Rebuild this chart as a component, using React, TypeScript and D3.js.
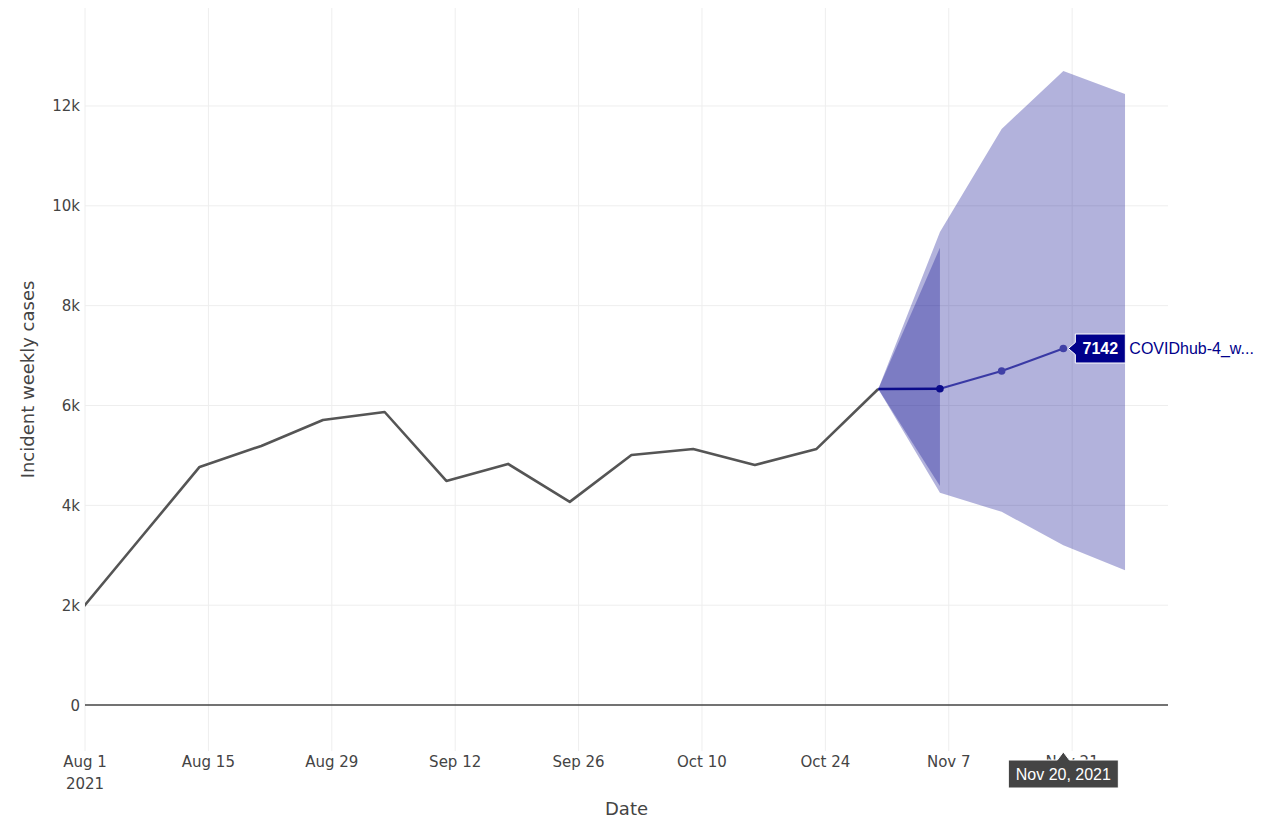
import { useEffect, useRef } from "react";
import * as d3 from "d3";

const WIDTH = 1281;
const HEIGHT = 820;
const PLOT = { left: 85, top: 8, right: 1168, bottom: 751 };
const X_START = "2021-08-01T00:00:00Z";
const X_END = "2021-12-01T21:00:00Z";
const Y_MIN = -921;
const Y_MAX = 13963;

// observed weekly cases
const truthDates = [
  "2021-07-31", "2021-08-07", "2021-08-14", "2021-08-21", "2021-08-28",
  "2021-09-04", "2021-09-11", "2021-09-18", "2021-09-25", "2021-10-02",
  "2021-10-09", "2021-10-16", "2021-10-23", "2021-10-30",
];
const truthCases = [
  1790, 3280, 4770, 5190, 5710, 5870, 4490, 4830, 4070, 5010, 5130, 4810, 5130, 6330,
];

// forecast (COVIDhub-4_week_ensemble)
const forecastDates = ["2021-10-30", "2021-11-06", "2021-11-13", "2021-11-20", "2021-11-27"];
const medianCases = [6330, 6335, 6690, 7142];
const outerLower = [6330, 4250, 3870, 3200, 2700];
const outerUpper = [6330, 9475, 11540, 12700, 12240];
const innerDates = ["2021-10-30", "2021-11-06"];
const innerLower = [6330, 4390];
const innerUpper = [6330, 9160];

const xTicks = [
  "2021-08-01", "2021-08-15", "2021-08-29", "2021-09-12", "2021-09-26",
  "2021-10-10", "2021-10-24", "2021-11-07", "2021-11-21",
];
const yTicks = [0, 2000, 4000, 6000, 8000, 10000, 12000];

const hoverDate = "2021-11-20";
const hoverValue = 7142;
const hoverName = "COVIDhub-4_w...";
const hoverDateLabel = "Nov 20, 2021";

const TICK_FONT = "'DejaVu Sans', Verdana, sans-serif";
const HOVER_FONT = "'Liberation Sans', Arial, sans-serif";

export default function App() {
  const svgRef = useRef<SVGSVGElement | null>(null);

  useEffect(() => {
    if (!svgRef.current) return;
    const svg = d3.select(svgRef.current);
    svg.selectAll("*").remove();

    const parse = d3.utcParse("%Y-%m-%d");
    const pd = (s: string) => parse(s) as Date;

    const x = d3
      .scaleUtc()
      .domain([new Date(X_START), new Date(X_END)])
      .range([PLOT.left, PLOT.right]);
    const y = d3.scaleLinear().domain([Y_MIN, Y_MAX]).range([PLOT.bottom, PLOT.top]);

    svg
      .append("defs")
      .append("clipPath")
      .attr("id", "plot-clip")
      .append("rect")
      .attr("x", PLOT.left)
      .attr("y", PLOT.top)
      .attr("width", PLOT.right - PLOT.left)
      .attr("height", PLOT.bottom - PLOT.top);

    // grid
    const grid = svg.append("g");
    grid
      .selectAll("line.vx")
      .data(xTicks)
      .enter()
      .append("line")
      .attr("x1", (d) => x(pd(d)))
      .attr("x2", (d) => x(pd(d)))
      .attr("y1", PLOT.top)
      .attr("y2", PLOT.bottom)
      .attr("stroke", "#eeeeee")
      .attr("stroke-width", 1);
    grid
      .selectAll("line.hy")
      .data(yTicks.filter((v) => v !== 0))
      .enter()
      .append("line")
      .attr("x1", PLOT.left)
      .attr("x2", PLOT.right)
      .attr("y1", (d) => y(d))
      .attr("y2", (d) => y(d))
      .attr("stroke", "#eeeeee")
      .attr("stroke-width", 1);

    // zero line
    svg
      .append("line")
      .attr("x1", PLOT.left)
      .attr("x2", PLOT.right)
      .attr("y1", y(0))
      .attr("y2", y(0))
      .attr("stroke", "#444")
      .attr("stroke-width", 1.3);

    const plot = svg.append("g").attr("clip-path", "url(#plot-clip)");

    // bands
    const area = d3
      .area<[Date, number, number]>()
      .x((d) => x(d[0]))
      .y0((d) => y(d[1]))
      .y1((d) => y(d[2]));

    const outer = forecastDates.map((d, i) => [pd(d), outerLower[i], outerUpper[i]] as [Date, number, number]);
    const inner = innerDates.map((d, i) => [pd(d), innerLower[i], innerUpper[i]] as [Date, number, number]);

    plot.append("path").attr("d", area(outer)).attr("fill", "rgb(0,0,139)").attr("fill-opacity", 0.3);
    plot.append("path").attr("d", area(inner)).attr("fill", "rgb(0,0,139)").attr("fill-opacity", 0.3);

    // truth line
    const line = d3
      .line<[Date, number]>()
      .x((d) => x(d[0]))
      .y((d) => y(d[1]));
    const truth = truthDates.map((d, i) => [pd(d), truthCases[i]] as [Date, number]);
    plot
      .append("path")
      .attr("d", line(truth))
      .attr("fill", "none")
      .attr("stroke", "#555")
      .attr("stroke-width", 2.6)
      .attr("stroke-linejoin", "round");

    // median
    const median = medianCases.map((v, i) => [pd(forecastDates[i]), v] as [Date, number]);
    plot
      .append("path")
      .attr("d", line(median.slice(1)))
      .attr("fill", "none")
      .attr("stroke", "rgba(0,0,139,0.68)")
      .attr("stroke-width", 2.2);
    plot
      .append("path")
      .attr("d", line(median.slice(0, 2)))
      .attr("fill", "none")
      .attr("stroke", "#0b0b8a")
      .attr("stroke-width", 2.4);
    plot
      .selectAll("circle.med")
      .data(median.slice(1))
      .enter()
      .append("circle")
      .attr("cx", (d) => x(d[0]))
      .attr("cy", (d) => y(d[1]))
      .attr("r", 3.8)
      .attr("fill", (_d, i) => (i === 0 ? "#0b0b8a" : "#4040a6"));

    // x tick labels
    const fmt = d3.utcFormat("%b %-d");
    const xt = svg
      .append("g")
      .attr("font-family", TICK_FONT)
      .attr("font-size", 15)
      .attr("fill", "#444")
      .attr("text-anchor", "middle");
    xt.selectAll("text")
      .data(xTicks)
      .enter()
      .append("text")
      .attr("x", (d) => x(pd(d)))
      .attr("y", 767)
      .text((d) => fmt(pd(d)));
    xt.append("text")
      .attr("x", x(pd(xTicks[0])))
      .attr("y", 789)
      .text("2021");

    // y tick labels
    svg
      .append("g")
      .attr("font-family", TICK_FONT)
      .attr("font-size", 15)
      .attr("fill", "#444")
      .attr("text-anchor", "end")
      .selectAll("text")
      .data(yTicks)
      .enter()
      .append("text")
      .attr("x", 80)
      .attr("y", (d) => y(d) + 5.5)
      .text((d) => (d === 0 ? "0" : `${d / 1000}k`));

    // axis titles
    svg
      .append("text")
      .attr("x", (PLOT.left + PLOT.right) / 2)
      .attr("y", 815)
      .attr("text-anchor", "middle")
      .attr("font-family", TICK_FONT)
      .attr("font-size", 18)
      .attr("fill", "#444")
      .text("Date");
    svg
      .append("text")
      .attr("transform", `translate(34,${(PLOT.top + PLOT.bottom) / 2}) rotate(-90)`)
      .attr("text-anchor", "middle")
      .attr("font-family", TICK_FONT)
      .attr("font-size", 18)
      .attr("fill", "#444")
      .text("Incident weekly cases");

    // hover: value label
    const hx = x(pd(hoverDate));
    const hy = y(hoverValue);
    const tip = hx + 5;
    const boxL = tip + 7;
    const boxR = boxL + 50;
    const hh = 14.5;
    const hv = svg.append("g");
    hv.append("path")
      .attr(
        "d",
        `M${tip},${hy} L${boxL},${hy - 6} L${boxL},${hy - hh} L${boxR},${hy - hh} L${boxR},${hy + hh} L${boxL},${hy + hh} L${boxL},${hy + 6} Z`,
      )
      .attr("fill", "#00008b")
      .attr("stroke", "#fff")
      .attr("stroke-width", 1);
    hv.append("text")
      .attr("x", (boxL + boxR) / 2)
      .attr("y", hy + 5.5)
      .attr("text-anchor", "middle")
      .attr("font-family", HOVER_FONT)
      .attr("font-size", 16)
      .attr("font-weight", "bold")
      .attr("fill", "#fff")
      .text(String(hoverValue));
    hv.append("text")
      .attr("x", boxR + 4)
      .attr("y", hy + 5.5)
      .attr("font-family", HOVER_FONT)
      .attr("font-size", 16)
      .attr("fill", "#00008b")
      .text(hoverName);

    // hover: date label on x axis (covers the Nov 21 tick, as in the original)
    const ty = PLOT.bottom + 1;
    const bTop = ty + 8;
    const bBot = bTop + 28;
    const bL = hx - 55;
    const bR = hx + 55;
    svg
      .append("path")
      .attr(
        "d",
        `M${hx},${ty} L${hx + 6},${bTop} L${bR},${bTop} L${bR},${bBot} L${bL},${bBot} L${bL},${bTop} L${hx - 6},${bTop} Z`,
      )
      .attr("fill", "#444")
      .attr("stroke", "#fff")
      .attr("stroke-width", 1);
    svg
      .append("text")
      .attr("x", hx)
      .attr("y", bTop + 20)
      .attr("text-anchor", "middle")
      .attr("font-family", HOVER_FONT)
      .attr("font-size", 16)
      .attr("fill", "#fff")
      .text(hoverDateLabel);
  }, []);

  return (
    <div style={{ position: "absolute", left: 0, top: 0 }}>
      <svg ref={svgRef} width={WIDTH} height={HEIGHT} style={{ display: "block", background: "#fff" }} />
    </div>
  );
}
